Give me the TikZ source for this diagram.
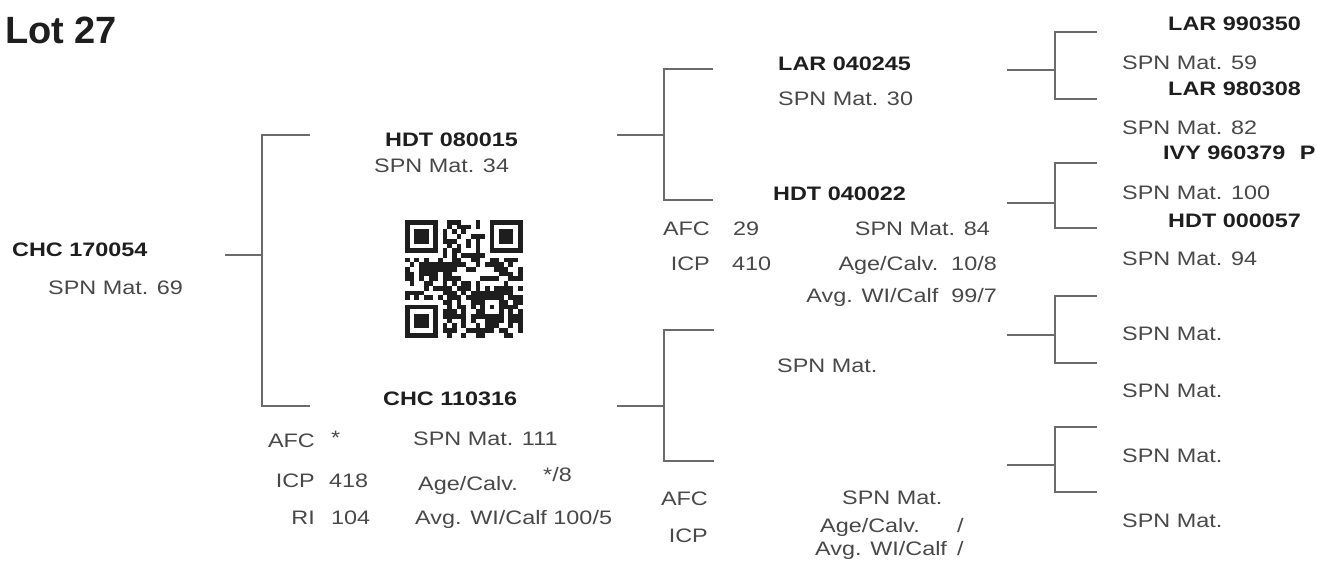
\documentclass[tikz,border=0pt]{standalone}
\usepackage{fontspec}
\setmainfont{Liberation Sans}
\newfontfamily\pedfont{Liberation Sans}[FakeStretch=1.2]
\definecolor{namecol}{HTML}{1E1E1E}
\definecolor{infocol}{HTML}{484848}
\definecolor{linecol}{HTML}{6B6B6B}
\begin{document}
\begin{tikzpicture}[x=1pt, y=-1pt,
	animal/.style = {font=\pedfont\bfseries\fontsize{19.5}{22}\selectfont, text=namecol, inner sep=0, anchor=base west},
	info/.style = {font=\pedfont\fontsize{19.5}{22}\selectfont, text=infocol, inner sep=0, anchor=base west},
	infor/.style = {info, anchor=base east},
	link/.style = {linecol, line width=2.2pt}]
	\useasboundingbox (0,0) rectangle (1317,560);
	\node[anchor=base west, inner sep=0, font=\bfseries\fontsize{38}{42}\selectfont, text=namecol] (lot) at (5,43) {Lot 27};
	% brackets
	\foreach \k/\sx/\my/\vx/\ty/\by/\ex in {1/225/255/262/135/406/310, 2/617/135/664/69/200/713, 3/617/406/664/330/461/714,
		4/1007/70/1055/32/99/1097, 5/1007/203/1055/163/228/1097, 6/1007/335/1055/296/363/1097, 7/1007/465/1055/427/492/1097} {
		\coordinate (in\k) at (\sx,\my);
		\coordinate (top\k) at (\vx,\ty);
		\coordinate (bot\k) at (\vx,\by);
		\draw[link] (in\k) -- (in\k -| top\k);
		\draw[link] (\ex,\ty) -- (top\k) -- (bot\k) -- (\ex,\by);
	}
	% animal
	\node[animal] (c0) at (12,256) {CHC 170054};
	\node[info] (c0m) at (48,294) {SPN Mat. 69};
	% sire and dam
	\node[animal] (s) at (385,146) {HDT 080015};
	\node[info] (sm) at (374,172) {SPN Mat. 34};
	\node[animal] (d) at (383,405) {CHC 110316};
	\node[infor] (dafc) at (315,447) {AFC};
	\node[info] (dafcv) at (331,444) {*};
	\node[infor] (dicp) at (315,487) {ICP};
	\node[info] (dicpv) at (329,487) {418};
	\node[infor] (dri) at (315,524) {RI};
	\node[info] (driv) at (331,524) {104};
	\node[info] (dm) at (413,445) {SPN Mat. 111};
	\node[info] (dage) at (418,490) {Age/Calv.};
	\node[info] (dagev) at (543,481) {*/8};
	\node[info] (davg) at (415,524) {Avg. WI/Calf 100/5};
	% grandparents
	\node[animal] (ss) at (778,70) {LAR 040245};
	\node[info] (ssm) at (778,105) {SPN Mat. 30};
	\node[animal] (sd) at (773,200) {HDT 040022};
	\node[infor] (sdafc) at (710,235) {AFC};
	\node[info] (sdafcv) at (733,235) {29};
	\node[infor] (sdicp) at (710,270) {ICP};
	\node[info] (sdicpv) at (732,270) {410};
	\node[infor] (sdm) at (990,235) {SPN Mat. 84};
	\node[infor] (sdage) at (997,270) {Age/Calv.\ \ 10/8};
	\node[infor] (sdavg) at (997,302) {Avg. WI/Calf\ \ 99/7};
	\node[info] (ds) at (777,372) {SPN Mat.};
	\node[infor] (ddafc) at (708,505) {AFC};
	\node[infor] (ddicp) at (708,542) {ICP};
	\node[info] (ddm) at (842,504) {SPN Mat.};
	\node[info] (ddage) at (820,532) {Age/Calv.};
	\node[info] (ddagev) at (957,532) {/};
	\node[info] (ddavg) at (815,555) {Avg. WI/Calf};
	\node[info] (ddavgv) at (957,555) {/};
	% great-grandparents
	\node[animal] (sss) at (1168,30) {LAR 990350};
	\node[info] (sssm) at (1122,69) {SPN Mat. 59};
	\node[animal] (ssd) at (1168,95) {LAR 980308};
	\node[info] (ssdm) at (1122,134) {SPN Mat. 82};
	\node[animal] (sds) at (1163,159) {IVY 960379 \hspace{8pt}P};
	\node[info] (sdsm) at (1122,199) {SPN Mat. 100};
	\node[animal] (sdd) at (1168,227) {HDT 000057};
	\node[info] (sddm) at (1122,265) {SPN Mat. 94};
	\node[info] (dssm) at (1122,340) {SPN Mat.};
	\node[info] (dsdm) at (1122,397) {SPN Mat.};
	\node[info] (ddsm) at (1122,462) {SPN Mat.};
	\node[info] (dddm) at (1122,527) {SPN Mat.};
	% qr code
	\begin{scope}[shift={(405,220)}, x=4.7pt, y=-4.7pt]
		\pgfmathsetseed{2027}
		\foreach \i in {0,...,24} {
			\foreach \j in {0,...,24} {
				\pgfmathtruncatemacro\qrfree{!((\i<8 && \j<8) || (\i>16 && \j<8) || (\i<8 && \j>16) || (\i>15 && \i<21 && \j>15 && \j<21))}
				\pgfmathtruncatemacro\qrbit{rnd<0.58}
				\ifnum\qrfree=1 \ifnum\qrbit=1 \fill[namecol] (\i,\j) rectangle ++(1,1); \fi\fi
			}
		}
		\foreach \fx/\fy in {0/0, 18/0, 0/18} {
			\fill[namecol] (\fx,\fy) rectangle ++(7,7);
			\fill[white] (\fx+1,\fy+1) rectangle ++(5,5);
			\fill[namecol] (\fx+2,\fy+2) rectangle ++(3,3);
		}
		\fill[namecol] (16,16) rectangle ++(5,5);
		\fill[white] (17,17) rectangle ++(3,3);
		\fill[namecol] (18,18) rectangle ++(1,1);
	\end{scope}
\end{tikzpicture}
\end{document}
